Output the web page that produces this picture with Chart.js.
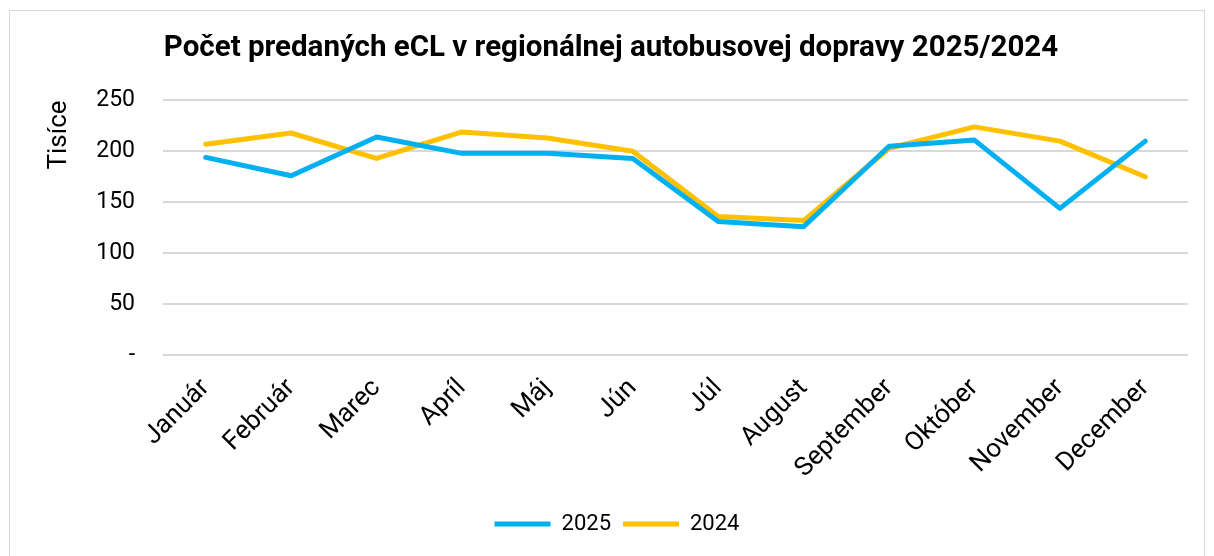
<!DOCTYPE html>
<html>
<head>
<meta charset="utf-8">
<script src="https://cdn.jsdelivr.net/npm/chart.js@4"></script>
<style>
    body { margin: 0; background: #fff; }
    #wrap { position: absolute; left: 9px; top: 10px; width: 1196px; height: 560px; border: 1px solid #d9d9d9; box-sizing: border-box; }
</style>
</head>
<body>
<div id="wrap"><canvas id="chart"></canvas></div>
<script>
let months = ["Január", "Február", "Marec", "Apríl", "Máj", "Jún", "Júl", "August", "September", "Október", "November", "December"];
let values2025 = [194, 176, 214, 198, 198, 193, 131, 126, 205, 211, 144, 210];
let values2024 = [207, 218, 193, 219, 213, 200, 136, 132, 203, 224, 210, 175];

Chart.defaults.font.family = "Roboto";
Chart.defaults.color = "#000";

// nudge the legend a bit to the right, like in the original
let legendShift = {
    id: "legendShift",
    afterLayout: function(chart) {
        chart.legend.left += 6;
        chart.legend.right += 6;
    }
};

let ctx = document.getElementById("chart").getContext("2d");
window.myChart = new Chart(ctx, {
    type: "line",
    data: {
        labels: months,
        datasets: [
            { label: "2025", data: values2025, borderColor: "#00B0F0", backgroundColor: "#00B0F0", borderWidth: 5, pointRadius: 0, borderCapStyle: "round", borderJoinStyle: "round", tension: 0 },
            { label: "2024", data: values2024, borderColor: "#FFC000", backgroundColor: "#FFC000", borderWidth: 5, pointRadius: 0, borderCapStyle: "round", borderJoinStyle: "round", tension: 0 }
        ]
    },
    plugins: [legendShift],
    options: {
        responsive: true,
        maintainAspectRatio: false,
        animation: false,
        layout: { padding: { left: 24, right: 16, top: 0, bottom: 24 } },
        plugins: {
            title: {
                display: true,
                text: "Počet predaných eCL v regionálnej autobusovej dopravy 2025/2024",
                font: { size: 29.5, weight: "bold" },
                color: "#000",
                padding: { top: 20, bottom: 34 }
            },
            legend: {
                position: "bottom",
                labels: {
                    boxWidth: 56,
                    boxHeight: 5,
                    padding: 12,
                    font: { size: 22 },
                    generateLabels: function(chart) {
                        return chart.data.datasets.map((ds, i) => ({
                            text: ds.label,
                            fillStyle: ds.borderColor,
                            strokeStyle: ds.borderColor,
                            lineWidth: 0,
                            datasetIndex: i
                        }));
                    }
                }
            },
            tooltip: { enabled: false }
        },
        scales: {
            x: {
                offset: true,
                grid: { display: false },
                border: { display: false },
                ticks: { font: { size: 26 }, maxRotation: 45, minRotation: 45, autoSkip: false, padding: 10 },
                afterFit: function(axis) { axis.height = 146; }
            },
            y: {
                min: 0,
                max: 250,
                grid: { color: "#d9d9d9", lineWidth: 2, drawTicks: false },
                border: { display: false },
                ticks: {
                    stepSize: 50,
                    font: { size: 23 },
                    padding: 28,
                    callback: v => v === 0 ? "-" : v
                },
                title: { display: true, text: "Tisíce", align: "end", font: { size: 26 }, padding: { top: 10, bottom: 0 } },
                afterFit: function(axis) { axis.width = 129; }
            }
        }
    }
});
</script>
</body>
</html>
